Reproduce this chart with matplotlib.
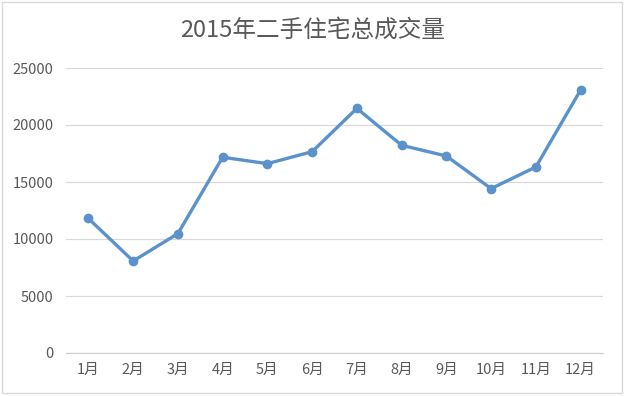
import matplotlib.pyplot as plt
from matplotlib.patches import Rectangle

plt.rcParams['font.family'] = ['Noto Sans CJK SC', 'DejaVu Sans']

# monthly second-hand housing transactions, 2015
months = ['1月', '2月', '3月', '4月', '5月', '6月',
          '7月', '8月', '9月', '10月', '11月', '12月']
volumes = [11800, 8070, 10470, 17170, 16610, 17660,
           21460, 18220, 17280, 14420, 16320, 23070]
y_ticks = [0, 5000, 10000, 15000, 20000, 25000]

fig = plt.figure(figsize=(6.25, 3.96), dpi=100)
ax = fig.add_axes([66 / 625, 1 - 353 / 396, (603 - 66) / 625, (353 - 68) / 396])

x = list(range(len(months)))
ax.plot(x, volumes, color='#5b92cc', linewidth=2.4, marker='o',
        markersize=6, zorder=3)

ax.set_xlim(-0.5, len(months) - 0.5)
ax.set_ylim(0, 25000)
ax.set_yticks(y_ticks)
ax.set_yticklabels([str(v) for v in y_ticks])
ax.set_xticks(x)
ax.set_xticklabels(months)

ax.grid(axis='y', color='#d9d9d9', linewidth=0.9)
ax.set_axisbelow(True)
for side in ['top', 'right', 'left']:
    ax.spines[side].set_visible(False)
ax.spines['bottom'].set_color('#d0d0d0')
ax.spines['bottom'].set_linewidth(0.9)
ax.tick_params(axis='both', length=0, colors='#595959', labelsize=10.5)
ax.tick_params(axis='y', pad=9)
ax.tick_params(axis='x', pad=7)

fig.text(0.5, 1 - 30 / 396, '2015年二手住宅总成交量', ha='center', va='center',
         fontsize=17, color='#595959')

# light frame around the chart area
fig.patches.append(Rectangle((2 / 625, 3 / 396), 620 / 625, 391 / 396,
                             transform=fig.transFigure, fill=False,
                             edgecolor='#d9d9d9', linewidth=1))

fig.savefig('out.png', dpi=100)
